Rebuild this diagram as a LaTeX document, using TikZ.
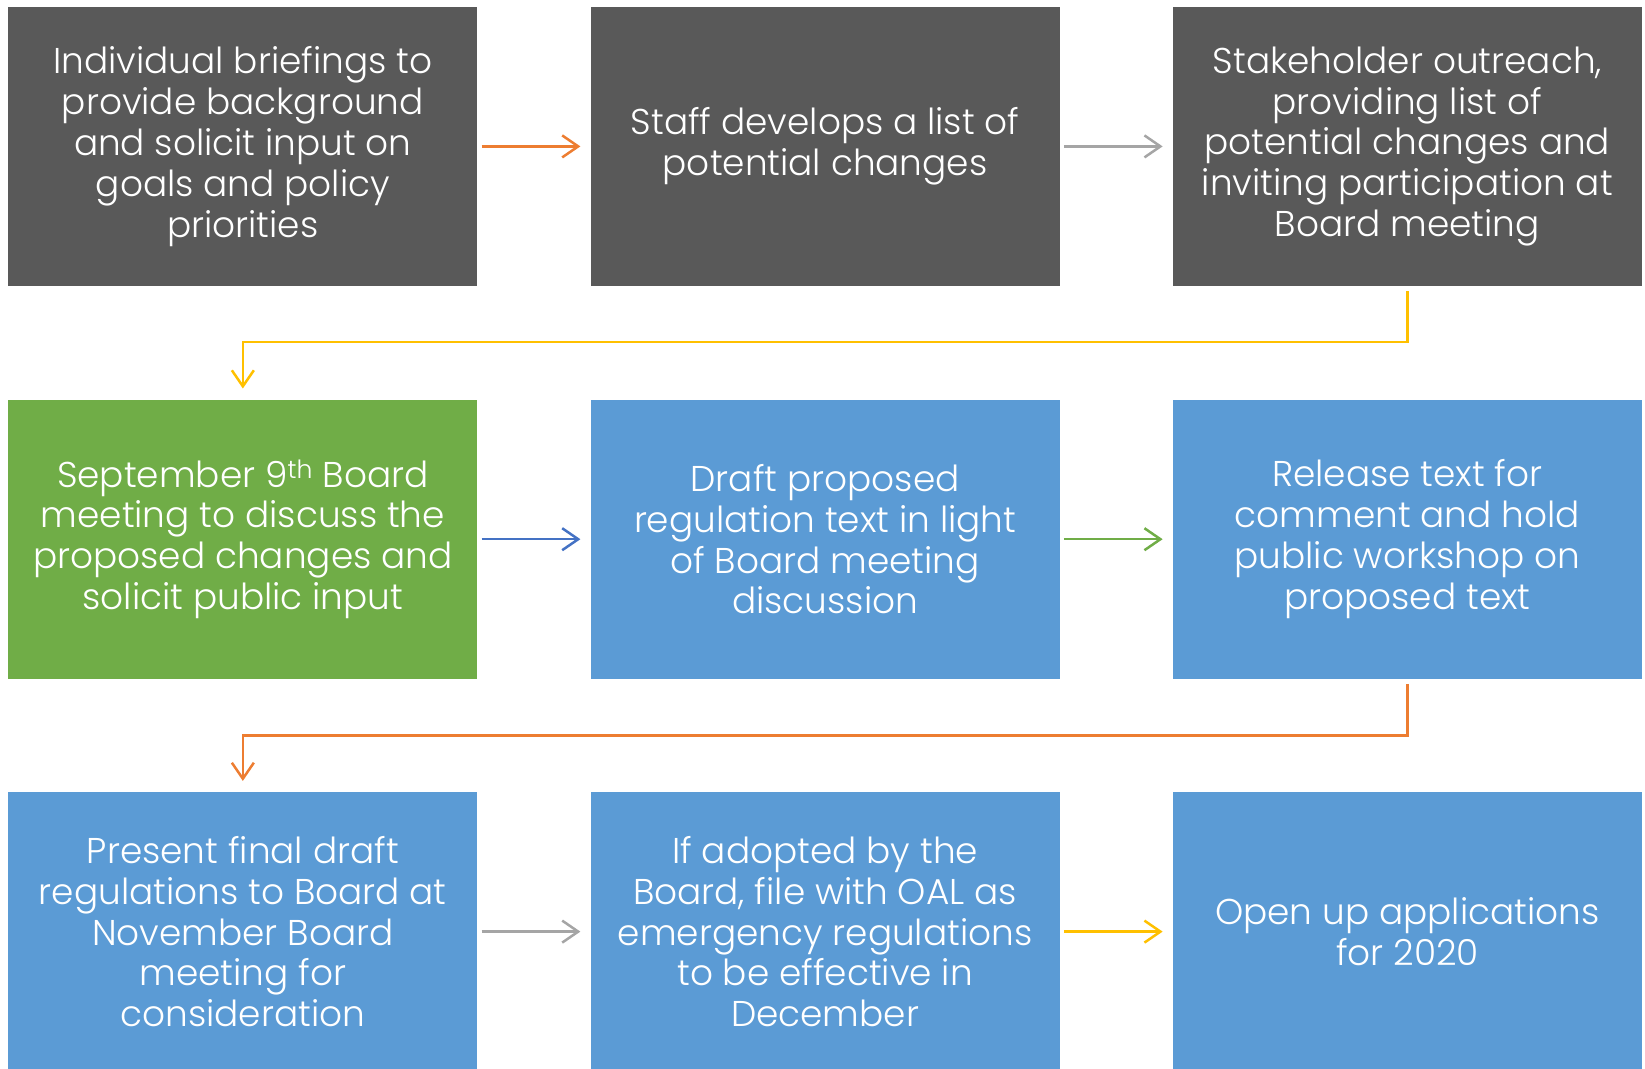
\documentclass[tikz,border=0pt]{standalone}
\usepackage{fontspec}
\setmainfont{Poppins}[UprightFont=* Light]
\usetikzlibrary{arrows.meta}
\definecolor{boxgray}{HTML}{595959}
\definecolor{boxgreen}{HTML}{70AD47}
\definecolor{boxblue}{HTML}{5B9BD5}
\definecolor{arrorange}{HTML}{ED7D31}
\definecolor{arrgray}{HTML}{A5A5A5}
\definecolor{arryellow}{HTML}{FFC000}
\definecolor{arrblue}{HTML}{4472C4}
\definecolor{arrgreen}{HTML}{70AD47}
\begin{document}
\begin{tikzpicture}[x=1bp,y=-1bp,
  box/.style={minimum width=469bp, minimum height=279bp, inner sep=0pt,
    text=white, align=center, font=\fontsize{36}{41}\selectfont},
  link/.style={line width=2.5bp, -{Straight Barb[length=16bp,width=22bp]}},
  hlink/.style={link, shorten <=4bp, shorten >=10bp},
  vlink/.style={link, shorten <=5bp, shorten >=11bp}]
\useasboundingbox (0,0) rectangle (1645,1068);

% first row
\node[box, fill=boxgray] (a1) at (242.85,146.4) {Individual briefings to\\provide background\\and solicit input on\\goals and policy\\priorities};
\node[box, fill=boxgray] (a2) at (825.1,146.4) {Staff develops a list of\\potential changes};
\node[box, fill=boxgray] (a3) at (1407.35,146.4) {Stakeholder outreach,\\providing list of\\potential changes and\\inviting participation at\\Board meeting};

% second row
\node[box, fill=boxgreen] (b1) at (242.85,539.2) {September 9\textsuperscript{th} Board\\meeting to discuss the\\proposed changes and\\solicit public input};
\node[box, fill=boxblue] (b2) at (825.1,539.2) {Draft proposed\\regulation text in light\\of Board meeting\\discussion};
\node[box, fill=boxblue] (b3) at (1407.35,539.2) {Release text for\\comment and hold\\public workshop on\\proposed text};

% third row
\node[box, fill=boxblue] (c1) at (242.85,931.6) {Present final draft\\regulations to Board at\\November Board\\meeting for\\consideration};
\node[box, fill=boxblue] (c2) at (825.1,931.6) {If adopted by the\\Board, file with OAL as\\emergency regulations\\to be effective in\\December};
\node[box, fill=boxblue] (c3) at (1407.35,931.6) {Open up applications\\for 2020};

% turn levels of the elbow connectors
\coordinate (t1) at (0,342);
\coordinate (t2) at (0,735.4);

% connectors
\draw[hlink, arrorange] (a1.east) -- (a2.west);
\draw[hlink, arrgray] (a2.east) -- (a3.west);
\draw[vlink, arryellow] (a3.south) -- (a3.south |- t1) -| (b1.north);
\draw[hlink, arrblue] (b1.east) -- (b2.west);
\draw[hlink, arrgreen] (b2.east) -- (b3.west);
\draw[vlink, arrorange] (b3.south) -- (b3.south |- t2) -| (c1.north);
\draw[hlink, arrgray] (c1.east) -- (c2.west);
\draw[hlink, arryellow] (c2.east) -- (c3.west);
\end{tikzpicture}
\end{document}
